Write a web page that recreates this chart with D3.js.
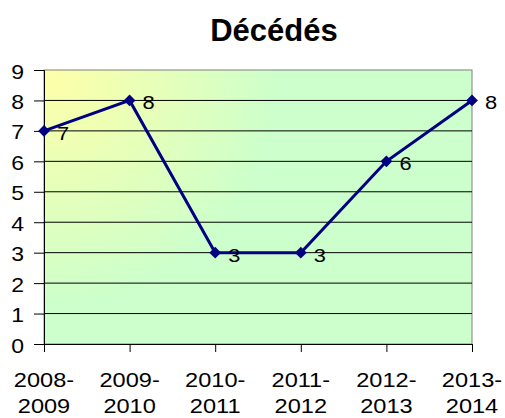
<!DOCTYPE html>
<html>
<head>
<meta charset="utf-8">
<script src="https://cdn.jsdelivr.net/npm/d3@7/dist/d3.min.js"></script>
<style>
  body { margin: 0; background: #fff; }
  text { font-family: "Liberation Sans", Arial, sans-serif; }
</style>
</head>
<body>
<script>
const categories = ["2008-2009", "2009-2010", "2010-2011", "2011-2012", "2012-2013", "2013-2014"];
const values = [7, 8, 3, 3, 6, 8];
const yTicks = [0, 1, 2, 3, 4, 5, 6, 7, 8, 9];

const width = 505, height = 418;
const plotLeft = 44, plotRight = 472, plotTop = 70, plotBottom = 344;
const sx = 1.15; // the original text is a bit wider than Arial

const svg = d3.select("body").append("svg")
  .attr("width", width)
  .attr("height", height);

const grad = svg.append("defs").append("radialGradient")
  .attr("id", "bg")
  .attr("gradientUnits", "userSpaceOnUse")
  .attr("cx", plotLeft).attr("cy", plotTop).attr("r", 240);
grad.append("stop").attr("offset", 0).attr("stop-color", "#ffffa8");
grad.append("stop").attr("offset", 1).attr("stop-color", "#ccffcc");

const x = d3.scalePoint().domain(categories).range([plotLeft, plotRight]);
const y = d3.scaleLinear().domain([0, 9]).range([plotBottom, plotTop]);

svg.append("rect")
  .attr("x", plotLeft).attr("y", plotTop)
  .attr("width", plotRight - plotLeft).attr("height", plotBottom - plotTop)
  .attr("fill", "url(#bg)")
  .attr("stroke", "#808080");

// grid lines
svg.append("g").selectAll("line")
  .data(yTicks.filter(d => d > 0 && d < 9))
  .join("line")
  .attr("x1", plotLeft).attr("x2", plotRight)
  .attr("y1", d => y(d)).attr("y2", d => y(d))
  .attr("stroke", "#000").attr("stroke-width", 1);

// y axis
const yAxis = svg.append("g")
  .attr("transform", `translate(${plotLeft},0)`)
  .call(d3.axisLeft(y).tickValues(yTicks).tickSize(10));
yAxis.select(".domain").attr("stroke", "#000");
yAxis.selectAll(".tick text")
  .attr("font-size", 20).attr("fill", "#000")
  .style("font-family", "'Liberation Sans', Arial, sans-serif")
  .attr("x", -20 / sx)
  .attr("dy", "0.4em")
  .attr("transform", `scale(${sx},1)`);

// x axis
const xAxis = svg.append("g")
  .attr("transform", `translate(0,${plotBottom})`)
  .call(d3.axisBottom(x).tickSize(8).tickFormat(""));
xAxis.select(".domain").attr("stroke", "#000");

svg.append("g").selectAll("text")
  .data(categories)
  .join("text")
  .attr("transform", d => `translate(${x(d)},387) scale(${sx},1)`)
  .attr("text-anchor", "middle")
  .attr("font-size", 20.5)
  .selectAll("tspan")
  .data(d => { const p = d.split("-"); return [p[0] + "-", p[1]]; })
  .join("tspan")
  .attr("x", 0)
  .attr("y", (d, i) => i * 26)
  .text(d => d);

// line
const data = categories.map((c, i) => ({ c, v: values[i] }));
svg.append("path")
  .datum(data)
  .attr("fill", "none")
  .attr("stroke", "#000080")
  .attr("stroke-width", 3)
  .attr("d", d3.line().x(d => x(d.c)).y(d => y(d.v)));

svg.append("g").selectAll("path")
  .data(data)
  .join("path")
  .attr("transform", d => `translate(${x(d.c)},${y(d.v)})`)
  .attr("d", d3.symbol(d3.symbolDiamond2, 88))
  .attr("fill", "#000080");

svg.append("g").selectAll("text")
  .data(data)
  .join("text")
  .attr("transform", d => `translate(${x(d.c) + 13},${y(d.v) + 9}) scale(${sx},1)`)
  .attr("font-size", 19)
  .text(d => d.v);

svg.append("text")
  .attr("x", 274).attr("y", 41)
  .attr("text-anchor", "middle")
  .attr("font-size", 31)
  .attr("font-weight", "bold")
  .text("Décédés");
</script>
</body>
</html>
